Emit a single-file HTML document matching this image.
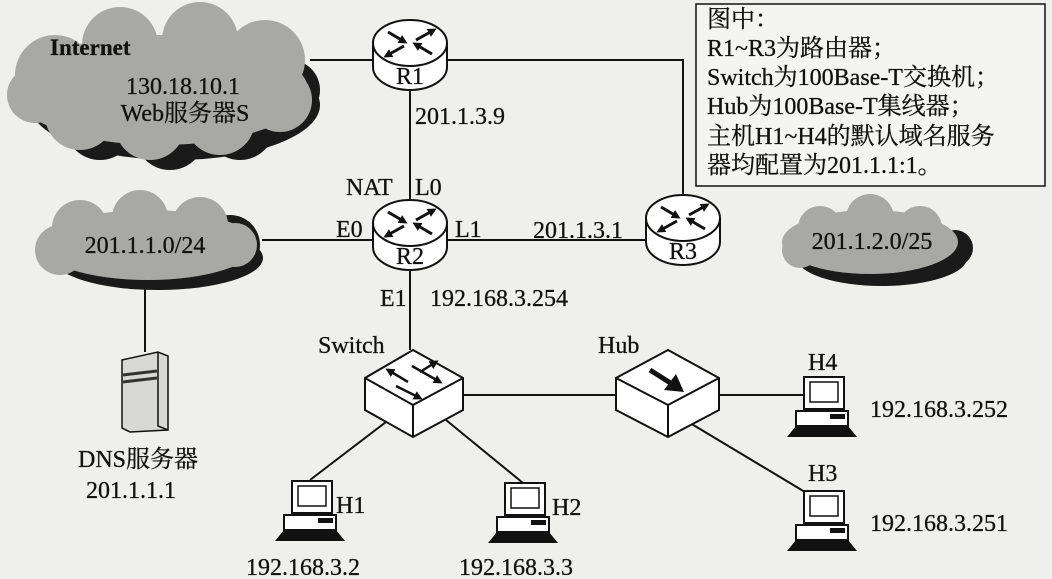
<!DOCTYPE html>
<html><head><meta charset="utf-8"><style>
html,body{margin:0;padding:0;background:#efefed;}
svg{display:block}
text{font-family:"Liberation Serif","Noto Serif CJK SC",serif;font-size:24px;fill:#111;stroke:#111;stroke-width:0.3;}
</style></head><body>
<svg width="1052" height="579" viewBox="0 0 1052 579" xmlns="http://www.w3.org/2000/svg">
<defs>
<marker id="ah" markerWidth="9" markerHeight="9" refX="6" refY="4.5" orient="auto" markerUnits="userSpaceOnUse"><path d="M0,0 L9,4.5 L0,9z" fill="#111"/></marker>
<g id="router">
<path d="M373,43 L373,67 A37,23 0 0 0 447,67 L447,43" fill="#fff" stroke="#111" stroke-width="2"/>
<ellipse cx="410" cy="43" rx="37" ry="23" fill="#fff" stroke="#111" stroke-width="2"/>
<g stroke="#111" stroke-width="3" marker-end="url(#ah)">
<line x1="388" y1="32" x2="405" y2="42"/>
<line x1="432" y1="54" x2="415" y2="44"/>
<line x1="404" y1="46" x2="386" y2="56"/>
<line x1="416" y1="40" x2="434" y2="30"/>
</g>
</g>
<g id="pc">
<rect x="292" y="481" width="40" height="32" fill="#fff" stroke="#111" stroke-width="2"/>
<rect x="298" y="486" width="28" height="20" fill="#fff" stroke="#111" stroke-width="1.5"/>
<rect x="284" y="515" width="52" height="15" fill="#fff" stroke="#111" stroke-width="2"/>
<rect x="318" y="518" width="15" height="5" fill="#111"/>
<path d="M284,530 L336,530 L345,541 L275,541z" fill="#111"/>
</g>
</defs>
<rect width="1052" height="579" fill="#efefed"/>

<g stroke="#111" stroke-width="2" fill="none">
<line x1="310" y1="60" x2="372" y2="60"/>
<polyline points="447,60 683,60 683,215"/>
<line x1="410" y1="90" x2="410" y2="200"/>
<line x1="262" y1="240" x2="372" y2="240"/>
<line x1="447" y1="240" x2="646" y2="240"/>
<line x1="145" y1="280" x2="145" y2="352"/>
<line x1="410" y1="270" x2="410" y2="350"/>
<line x1="463" y1="395" x2="617" y2="395"/>
<line x1="718" y1="395" x2="810" y2="395"/>
<line x1="690" y1="423" x2="805" y2="492"/>
<line x1="386" y1="422" x2="310" y2="480"/>
<line x1="446" y1="420" x2="523" y2="483"/>
</g>

<g fill="#1a1a1a">
<ellipse cx="175" cy="105" rx="145" ry="55"/>
<circle cx="100" cy="125" r="35"/><circle cx="170" cy="135" r="35"/><circle cx="240" cy="125" r="35"/><circle cx="290" cy="90" r="30"/>
</g>
<g fill="#a8a8a6">
<ellipse cx="160" cy="90" rx="148" ry="55"/>
<circle cx="55" cy="75" r="40"/><circle cx="120" cy="45" r="38"/><circle cx="200" cy="40" r="38"/><circle cx="265" cy="60" r="40"/>
<circle cx="280" cy="100" r="32"/><circle cx="220" cy="120" r="35"/><circle cx="150" cy="125" r="35"/><circle cx="80" cy="115" r="35"/><circle cx="35" cy="95" r="28"/>
</g>
<text x="50" y="55" style="font-weight:bold;font-size:23px">Internet</text>
<text x="183" y="94" text-anchor="middle">130.18.10.1</text>
<text x="185" y="121" text-anchor="middle">Web服务器S</text>

<g fill="#1a1a1a">
<ellipse cx="158" cy="258" rx="105" ry="32"/><circle cx="230" cy="245" r="30"/>
</g>
<g fill="#a8a8a6">
<ellipse cx="148" cy="245" rx="108" ry="35"/>
<circle cx="80" cy="228" r="28"/><circle cx="140" cy="218" r="28"/><circle cx="200" cy="225" r="28"/><circle cx="235" cy="245" r="22"/><circle cx="60" cy="250" r="25"/>
</g>
<text x="145" y="253" text-anchor="middle">201.1.1.0/24</text>

<g fill="#1a1a1a">
<ellipse cx="882" cy="258" rx="85" ry="28"/><circle cx="955" cy="248" r="18"/>
</g>
<g fill="#a8a8a6">
<ellipse cx="870" cy="242" rx="88" ry="32"/>
<circle cx="820" cy="228" r="22"/><circle cx="870" cy="218" r="24"/><circle cx="920" cy="228" r="22"/><circle cx="800" cy="250" r="18"/>
</g>
<text x="872" y="249" text-anchor="middle">201.1.2.0/25</text>

<use href="#router"/>
<text x="410" y="84" text-anchor="middle">R1</text>
<use href="#router" transform="translate(0,180)"/>
<text x="410" y="264" text-anchor="middle">R2</text>
<use href="#router" transform="translate(273,175)"/>
<text x="683" y="259" text-anchor="middle">R3</text>

<text x="415" y="124">201.1.3.9</text>
<text x="346" y="195">NAT</text>
<text x="415" y="195">L0</text>
<text x="336" y="237">E0</text>
<text x="455" y="237">L1</text>
<text x="533" y="238">201.1.3.1</text>
<text x="380" y="306">E1</text>
<text x="430" y="306">192.168.3.254</text>

<rect x="696" y="4" width="349" height="182" fill="#f4f4f2" stroke="#111" stroke-width="1.5"/>
<g style="font-size:26px">
<text x="707" y="27">图中：</text>
<text x="707" y="56">R1~R3为路由器；</text>
<text x="707" y="85">Switch为100Base-T交换机；</text>
<text x="707" y="114">Hub为100Base-T集线器；</text>
<text x="707" y="144">主机H1~H4的默认域名服务</text>
<text x="707" y="173">器均配置为201.1.1:1。</text>
</g>

<path d="M122,360 L158,352 L168,356 L168,430 L130,432 L122,428z" fill="#d8d8d6" stroke="#111" stroke-width="1.5"/>
<path d="M158,352 L158,426 L168,430" fill="none" stroke="#111" stroke-width="1.5"/>
<g stroke="#333" stroke-width="3"><line x1="123" y1="375" x2="157" y2="371"/><line x1="123" y1="382" x2="157" y2="378"/></g>
<text x="78" y="467">DNS服务器</text>
<text x="86" y="498">201.1.1.1</text>

<path d="M413,350 L463,378 L463,410 L413,437 L365,410 L365,378z" fill="#fff" stroke="#111" stroke-width="2"/>
<path d="M365,378 L413,405 L463,378 M413,405 L413,437" fill="none" stroke="#111" stroke-width="2"/>
<g stroke="#111" stroke-width="2.5" marker-end="url(#ah)">
<line x1="408" y1="382" x2="388" y2="370"/><line x1="412" y1="366" x2="440" y2="382"/>
<line x1="420" y1="372" x2="436" y2="362"/><line x1="396" y1="386" x2="420" y2="398"/>
</g>
<text x="318" y="353">Switch</text>

<path d="M668,350 L719,378 L719,410 L668,437 L616,410 L616,378z" fill="#fff" stroke="#111" stroke-width="2"/>
<path d="M616,378 L668,405 L719,378 M668,405 L668,437" fill="none" stroke="#111" stroke-width="2"/>
<line x1="650" y1="370" x2="672" y2="384" stroke="#111" stroke-width="5"/>
<path d="M664,390 L684,392 L676,374z" fill="#111"/>
<text x="598" y="353">Hub</text>

<use href="#pc"/>
<use href="#pc" transform="translate(213,2)"/>
<use href="#pc" transform="translate(512,-104)"/>
<use href="#pc" transform="translate(512,10)"/>

<text x="336" y="513">H1</text>
<text x="552" y="515">H2</text>
<text x="808" y="370">H4</text>
<text x="808" y="481">H3</text>
<text x="246" y="575">192.168.3.2</text>
<text x="459" y="575">192.168.3.3</text>
<text x="870" y="417">192.168.3.252</text>
<text x="870" y="531">192.168.3.251</text>
</svg>
</body></html>
